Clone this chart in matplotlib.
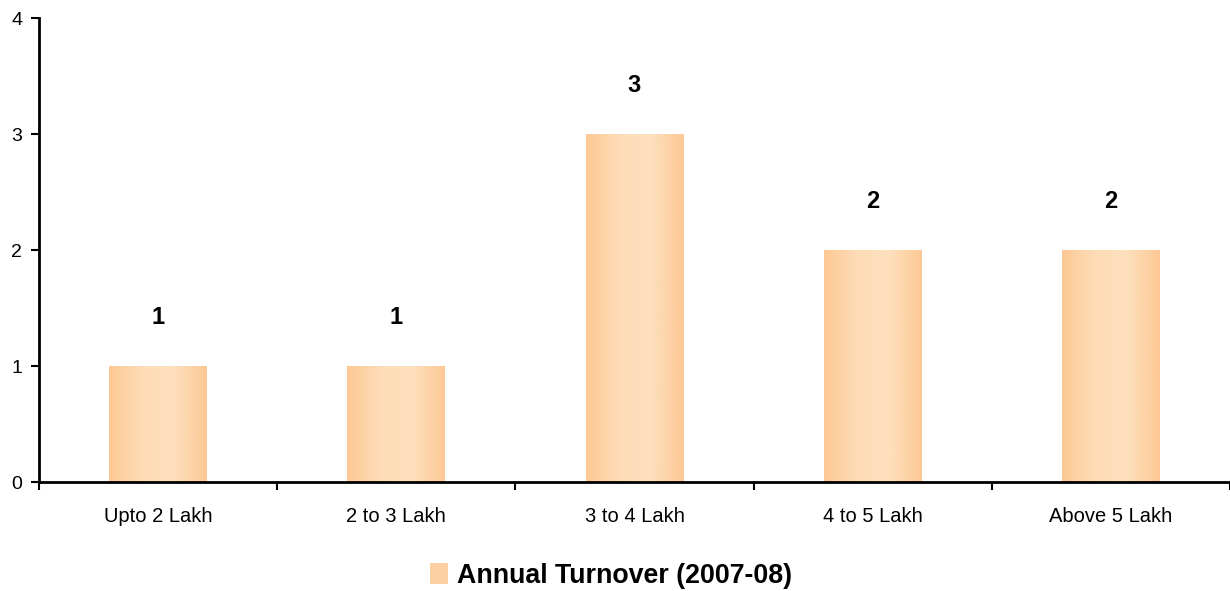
import numpy as np
import matplotlib
matplotlib.use('Agg')
import matplotlib.pyplot as plt
from matplotlib.colors import LinearSegmentedColormap
from matplotlib.patches import Patch

# data
categories = ['Upto 2 Lakh', '2 to 3 Lakh', '3 to 4 Lakh', '4 to 5 Lakh', 'Above 5 Lakh']
counts = [1, 1, 3, 2, 2]
series_name = 'Annual Turnover (2007-08)'

plt.rcParams['font.family'] = ['Liberation Sans', 'DejaVu Sans']

fig = plt.figure(figsize=(12.3, 5.91), dpi=100)
ax = fig.add_axes([0.0317, 0.1844, 0.9683, 0.7851])

x = np.arange(len(categories))
bars = ax.bar(x, counts, width=0.41, color='none', edgecolor='none', zorder=2)

# horizontal gradient: darker peach at the edges, lighter in the middle
grad_cmap = LinearSegmentedColormap.from_list(
    'peach', ['#fdc894', '#fedcb6', '#fde0bd', '#fdc894'])
grad = np.linspace(0, 1, 256).reshape(1, -1)
for b in bars:
    x0, y0 = b.get_x(), b.get_y()
    w, h = b.get_width(), b.get_height()
    im = ax.imshow(grad, cmap=grad_cmap, aspect='auto', zorder=2,
                   extent=(x0, x0 + w, y0, y0 + h), interpolation='bilinear')
    im.set_clip_path(b)

# value labels above the bars
for xi, v in zip(x, counts):
    ax.annotate(str(v), (xi, v), xytext=(0, 35), textcoords='offset points',
                ha='center', va='center', fontsize=17, fontweight='bold')

ax.set_xlim(-0.5, len(categories) - 0.5)
ax.set_ylim(0, 4)
ax.set_yticks([0, 1, 2, 3, 4])

# x ticks sit between categories, labels centred under the bars
ax.set_xticks(np.arange(-0.5, len(categories)), minor=False)
ax.set_xticklabels([])
ax.set_xticks(x, minor=True)
ax.set_xticklabels(categories, minor=True)
ax.tick_params(axis='x', which='minor', length=0, pad=18, labelsize=14.5)
ax.tick_params(axis='x', which='major', length=6, width=1.5, direction='out')
ax.tick_params(axis='y', length=6, width=1.5, direction='out', labelsize=14, pad=6)

for s in ['top', 'right']:
    ax.spines[s].set_visible(False)
for s in ['left', 'bottom']:
    ax.spines[s].set_linewidth(2)

handle = Patch(facecolor='#fdd0a4', edgecolor='none')
fig.legend([handle], [series_name], loc='center', bbox_to_anchor=(0.497, 0.026),
           frameon=False, prop={'size': 19.3, 'weight': 'bold'},
           handlelength=0.65, handleheight=0.8, handletextpad=0.35)

fig.savefig('out.png', dpi=100)
